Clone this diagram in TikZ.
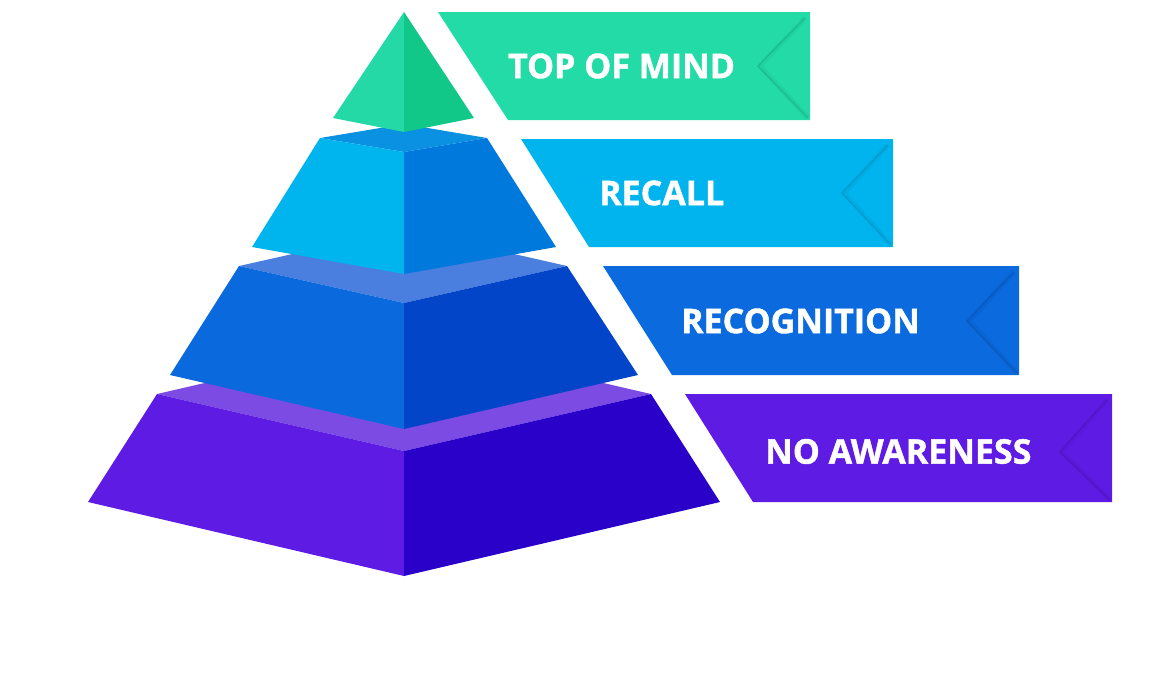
\documentclass[tikz,border=0pt]{standalone}
\usepackage{fontspec}
\setsansfont{Open Sans}[BoldFeatures={FakeBold=1.2}]
\usetikzlibrary{calc}

\definecolor{mindL}{HTML}{25D9A7}
\definecolor{mindR}{HTML}{12C889}
\definecolor{recallT}{HTML}{0A91E2}
\definecolor{recallL}{HTML}{00B4EE}
\definecolor{recallR}{HTML}{0079DC}
\definecolor{recogT}{HTML}{4A7FDF}
\definecolor{recogL}{HTML}{0969DD}
\definecolor{recogR}{HTML}{0345C8}
\definecolor{noneT}{HTML}{7B4BE3}
\definecolor{noneL}{HTML}{5D1BE4}
\definecolor{noneR}{HTML}{2901C9}
\definecolor{mindBan}{HTML}{22DBA6}
\definecolor{recallBan}{HTML}{01B4EE}
\definecolor{recogBan}{HTML}{0A6ADE}
\definecolor{noneBan}{HTML}{5E1BE4}

\tikzset{
  banlabel/.style={text=white, inner sep=0pt, font=\sffamily\bfseries\fontsize{34}{34}\selectfont},
  fold/.style={line width=1.2pt, black, opacity=0.10},
  foldsoft/.style={line width=5pt, black, opacity=0.04}
}

\begin{document}
\begin{tikzpicture}[x=1pt,y=-1pt]
            \useasboundingbox (0,0) rectangle (1164,694);

            % Bottom tier (no awareness)
            \fill[noneT] (157,394) -- (404,337) -- (651,394) -- (404,451) -- cycle;
            \fill[noneL] (157,394) -- (404,451) -- (404,576) -- (88,502) -- cycle;
            \fill[noneR] (404,451) -- (651,394) -- (720,502) -- (404,576) -- cycle;

            % Third tier (recognition)
            \fill[recogT] (239,266) -- (404,229) -- (567,266) -- (404,303) -- cycle;
            \fill[recogL] (239,266) -- (404,303) -- (404,429) -- (170,375) -- cycle;
            \fill[recogR] (404,303) -- (567,266) -- (638,375) -- (404,429) -- cycle;

            % Second tier (recall)
            \fill[recallT] (320,138) -- (404,124) -- (487,138) -- (404,152) -- cycle;
            \fill[recallL] (320,138) -- (404,152) -- (404,274) -- (252,247) -- cycle;
            \fill[recallR] (404,152) -- (487,138) -- (556,247) -- (404,274) -- cycle;

            % Top tier (top of mind)
            \fill[mindL] (404,12) -- (333,118) -- (404,132) -- cycle;
            \fill[mindR] (404,12) -- (404,132) -- (474,118) -- cycle;

            % Banners
            \fill[mindBan] (438,12) -- (810,12) -- (810,120) -- (508,120) -- cycle;
            \fill[recallBan] (521,139) -- (893,139) -- (893,247) -- (589,247) -- cycle;
            \fill[recogBan] (603,266) -- (1019,266) -- (1019,375) -- (672,375) -- cycle;
            \fill[noneBan] (685,394) -- (1112,394) -- (1112,502) -- (753,502) -- cycle;

            % Folds
            \draw[foldsoft] (805,18) -- (760,66) -- (808,118);
            \draw[fold] (805,18) -- (758,66) -- (808,118);
            \draw[foldsoft] (888,145) -- (844,193) -- (891,245);
            \draw[fold] (888,145) -- (842,193) -- (891,245);
            \draw[foldsoft] (1014,272) -- (969,321) -- (1017,373);
            \draw[fold] (1014,272) -- (967,321) -- (1017,373);
            \draw[foldsoft] (1107,400) -- (1062,452) -- (1110,500);
            \draw[fold] (1107,400) -- (1060,452) -- (1110,500);

            % Labels
            \node[banlabel] (mind) at (621.5,66) {TOP OF MIND};
            \node[banlabel] (recall) at (661.7,193) {RECALL};
            \node[banlabel] (recog) at (800.5,321) {RECOGNITION};
            \node[banlabel] (none) at (898.3,451.5) {NO AWARENESS};
        \end{tikzpicture}
\end{document}
